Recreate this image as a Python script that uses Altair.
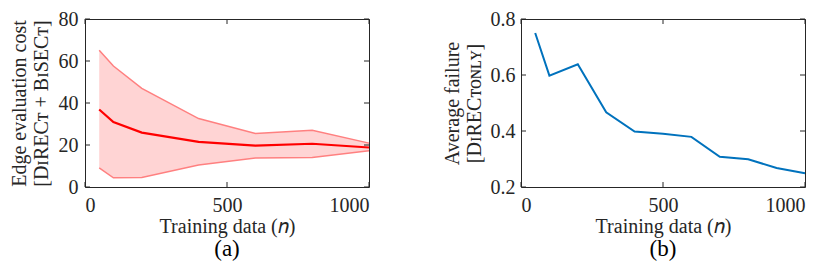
import altair as alt
import pandas as pd

# Panel (a)
n_a = [50, 100, 200, 400, 600, 800, 1000]
mean_a = [36.9, 30.9, 25.9, 21.5, 19.7, 20.6, 18.8]
upper_a = [65.1, 57.6, 47.0, 32.6, 25.5, 27.0, 20.9]
lower_a = [9.1, 4.4, 4.5, 10.5, 13.8, 14.1, 17.3]

# Panel (b)
n_b = [50, 100, 200, 300, 400, 500, 600, 700, 800, 900, 1000]
fail_b = [0.75, 0.598, 0.638, 0.467, 0.398, 0.39, 0.379, 0.308, 0.299, 0.268, 0.249]

x_ticks = [0, 500, 1000]
y_ticks_a = [0, 20, 40, 60, 80]
y_ticks_b = [0.2, 0.4, 0.6, 0.8]

FONT = "Liberation Serif"
AX = "#262626"
W_A, W_B, H = 284, 284, 168
TL = 5
FS = 20

df_a = pd.DataFrame({"n": n_a, "mean": mean_a, "upper": upper_a, "lower": lower_a})
df_b = pd.DataFrame({"n": n_b, "fail": fail_b})


def ticks(xvals, yvals, yfield, xscale, yscale, W):
    dx = pd.DataFrame({"n": xvals})
    dy = pd.DataFrame({yfield: yvals})
    base_x = alt.Chart(dx).mark_rule(color=AX, strokeWidth=1)
    base_y = alt.Chart(dy).mark_rule(color=AX, strokeWidth=1)
    xe = alt.X("n:Q", scale=xscale)
    ye = alt.Y(f"{yfield}:Q", scale=yscale)
    return [
        base_x.encode(x=xe, y=alt.value(H), y2=alt.value(H - TL)),
        base_x.encode(x=xe, y=alt.value(0), y2=alt.value(TL)),
        base_y.encode(y=ye, x=alt.value(0), x2=alt.value(TL)),
        base_y.encode(y=ye, x=alt.value(W), x2=alt.value(W - TL)),
    ]


def xaxis():
    return alt.Axis(values=x_ticks, ticks=False, domain=False, grid=False, format="d",
                    title="Training data (𝑛)", labelPadding=8, titlePadding=1)


xs = alt.Scale(domain=[0, 1000], nice=False, zero=False)
ys_a = alt.Scale(domain=[0, 80], nice=False)
ys_b = alt.Scale(domain=[0.2, 0.8], nice=False, zero=False)

band = alt.Chart(df_a).mark_area(color="#ff0000", opacity=0.17).encode(
    x=alt.X("n:Q", scale=xs, axis=xaxis()),
    y=alt.Y("upper:Q", scale=ys_a,
            axis=alt.Axis(values=y_ticks_a, ticks=False, domain=False, grid=False,
                          title=["Edge evaluation cost", "[DɪRECᴛ + BɪSECᴛ]"],
                          labelPadding=7, titlePadding=7)),
    y2="lower:Q",
)
up = alt.Chart(df_a).mark_line(color="#ff8080", strokeWidth=1.5).encode(
    x=alt.X("n:Q", scale=xs), y=alt.Y("upper:Q", scale=ys_a))
lo = alt.Chart(df_a).mark_line(color="#ff8080", strokeWidth=1.5).encode(
    x=alt.X("n:Q", scale=xs), y=alt.Y("lower:Q", scale=ys_a))
mean = alt.Chart(df_a).mark_line(color="#ff0000", strokeWidth=2.2).encode(
    x=alt.X("n:Q", scale=xs), y=alt.Y("mean:Q", scale=ys_a))

panel_a = alt.layer(band, up, lo, mean, *ticks(x_ticks, y_ticks_a, "upper", xs, ys_a, W_A)).properties(
    width=W_A, height=H,
    title=alt.TitleParams("(a)", orient="bottom", fontSize=23, font=FONT,
                          fontWeight="normal", color="black", offset=2))

line_b = alt.Chart(df_b).mark_line(color="#0072BD", strokeWidth=2).encode(
    x=alt.X("n:Q", scale=xs, axis=xaxis()),
    y=alt.Y("fail:Q", scale=ys_b,
            axis=alt.Axis(values=y_ticks_b, ticks=False, domain=False, grid=False, format=".1f",
                          title=["Average failure", "[DɪRECᴛᴏɴʟʏ]"],
                          labelPadding=6, titlePadding=6)),
)
panel_b = alt.layer(line_b, *ticks(x_ticks, y_ticks_b, "fail", xs, ys_b, W_B)).properties(
    width=W_B, height=H,
    title=alt.TitleParams("(b)", orient="bottom", fontSize=23, font=FONT,
                          fontWeight="normal", color="black", offset=2))

chart = alt.hconcat(panel_a, panel_b, spacing=67).configure(
    background="white", padding=0
).configure_view(
    stroke=AX, strokeWidth=1
).configure_axis(
    labelFont=FONT, titleFont=FONT, labelFontSize=FS, titleFontSize=FS,
    labelColor=AX, titleColor=AX, titleFontWeight="normal"
)

chart.save("out.html", embed_options={"renderer": "svg", "actions": False})
